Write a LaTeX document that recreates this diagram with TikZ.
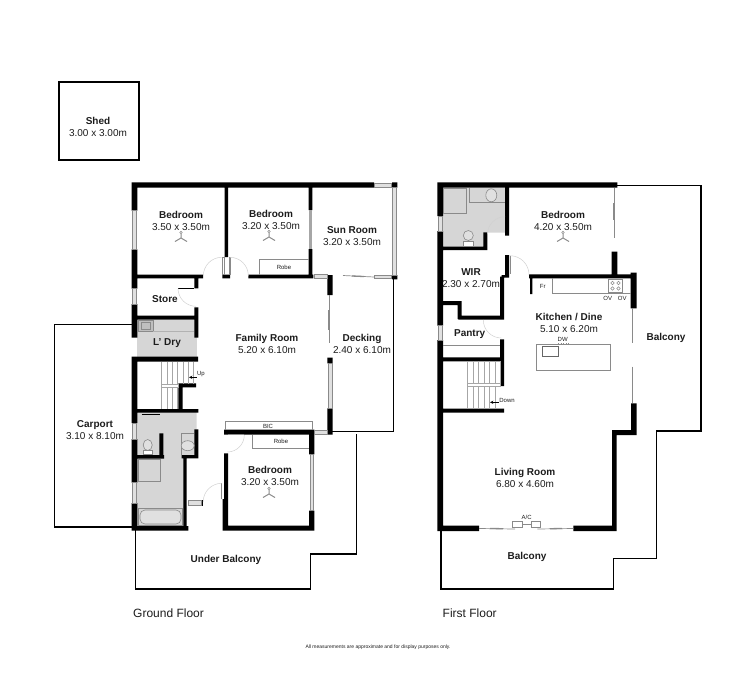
\documentclass[tikz,border=0pt]{standalone}
\usepackage{fontspec}
\setmainfont{Liberation Sans}
\usepackage{xcolor}
\definecolor{wetfloor}{HTML}{D6D6D6}
\definecolor{fitting}{HTML}{8A8A8A}
\definecolor{inktext}{HTML}{1C1C1C}
\tikzset{
    wall/.style={fill=black},
    outline/.style={draw=black, line width=1.5pt},
    wetarea/.style={fill=wetfloor},
    pane/.style={draw=fitting, line width=0.5pt, fill=white!88!black},
    slider/.style={draw=fitting, line width=0.7pt},
    sliderpanel/.style={draw=fitting, line width=1.3pt},
    fixture/.style={draw=fitting, line width=0.6pt},
    swing/.style={draw=black!18, line width=0.5pt},
    tread/.style={draw=black!35, line width=0.5pt},
    room/.style={font=\fontsize{10}{12}\selectfont, text=inktext, align=center, inner sep=0pt},
    tiny/.style={font=\fontsize{6}{7}\selectfont, text=inktext, inner sep=0pt},
    floortitle/.style={font=\fontsize{12}{14}\selectfont, text=inktext, inner sep=0pt, anchor=west},
    fan/.pic={
        \draw[draw=black!45, line width=1pt] (0, 0) -- (0, -4) (0, 0) -- (-6, 3.5) (0, 0) -- (6, 3.5);
        \draw[fixture, line width=0.5pt] (0, -5.5) circle (1.2);
    }
}

\begin{document}
\begin{tikzpicture}[x=1pt, y=-1pt]
    \useasboundingbox (0, 0) rectangle (750, 697);

    % wet rooms
    \fill[wetarea] (137, 320) rectangle (196.5, 356.7);
    \fill[wetarea] (137, 412) -- (196.5, 412) -- (196.5, 456) -- (184, 456) -- (184, 526) -- (137, 526) -- cycle;
    \fill[wetarea] (443, 188) -- (505, 188) -- (505, 232.5) -- (484, 232.5) -- (484, 247) -- (443, 247) -- cycle;

    % outlines
    \draw[outline] (59, 82) rectangle (139, 160);
    \draw[outline] (132, 324.3) -- (54.3, 324.3) -- (54.3, 527) -- (132, 527);
    \draw[outline] (393.4, 279) -- (393.4, 431.4) -- (332, 431.4);
    \draw[outline] (135.3, 530) -- (135.3, 589) -- (310.7, 589) -- (310.7, 554) -- (356.7, 554) -- (356.7, 434);
    \draw[outline] (617, 185.7) -- (701, 185.7) -- (701, 431) -- (656.7, 431) -- (656.7, 558.3) -- (613.3, 558.3) -- (613.3, 589) -- (441, 589) -- (441, 530);

    % ground floor walls
    \fill[wall]
    (132, 182.3) rectangle (374, 187.7)
    (392, 182.3) rectangle (397.3, 187.7)
    (392, 275) rectangle (397.3, 279.3)
    (131.7, 182.3) rectangle (137.3, 210.7)
    (131.7, 249.3) rectangle (137.3, 288.7)
    (131.7, 304) rectangle (137.3, 337.7)
    (131.7, 356.7) rectangle (137.3, 423)
    (131.7, 439) rectangle (137.3, 482.7)
    (131.7, 503) rectangle (137.3, 530.7)
    (137, 274.7) rectangle (203, 278.3)
    (194.3, 278) rectangle (198.3, 288.3)
    (194.3, 307.3) rectangle (198.3, 337.7)
    (137, 315.7) rectangle (198.3, 319.7)
    (137, 356.7) rectangle (198, 361.7)
    (178.3, 383.3) rectangle (196, 387.3)
    (178.3, 383.3) rectangle (182.7, 410)
    (137, 409) rectangle (198.3, 412.7)
    (194.3, 429.3) rectangle (198.3, 458.3)
    (181.7, 455) rectangle (198.3, 458.3)
    (183.3, 458) rectangle (186.7, 530)
    (137, 526) rectangle (188.3, 530.7)
    (159.3, 433.3) rectangle (163.3, 458.3)
    (137, 455) rectangle (164, 458.7)
    (224.7, 187) rectangle (228, 257)
    (222.3, 274.7) rectangle (230, 278.3)
    (248.3, 274.7) rectangle (313.3, 278.3)
    (308.7, 187) rectangle (312.3, 210)
    (308.7, 249) rectangle (312.3, 275)
    (327.3, 275) rectangle (332.7, 295)
    (327.3, 357.7) rectangle (332.7, 363.3)
    (327.3, 408.3) rectangle (332.7, 434.7)
    (224, 453.3) rectangle (228, 499)
    (222.7, 499) rectangle (228, 530.7)
    (222.7, 525.7) rectangle (314.3, 530.7)
    (309, 430) rectangle (314.3, 454.3)
    (309, 510.7) rectangle (314.3, 530.7)
    (224, 429.7) rectangle (314.3, 434.7);

    % first floor walls
    \fill[wall]
    (437.3, 182.3) rectangle (617.3, 187.7)
    (437.3, 182.3) rectangle (443, 216)
    (437.3, 231) rectangle (443, 325.7)
    (437.3, 340) rectangle (443, 531)
    (437.3, 525.7) rectangle (479, 531)
    (573.3, 525.7) rectangle (616.7, 531)
    (612, 430) rectangle (616.7, 531)
    (612, 430) rectangle (636.7, 435)
    (631, 403.3) rectangle (636.7, 435)
    (630.7, 272.7) rectangle (636.7, 308.3)
    (529, 274.3) rectangle (636.7, 278.3)
    (530, 278) rectangle (532.3, 294)
    (611.7, 251.7) rectangle (617.3, 275)
    (505, 187) rectangle (509, 235.7)
    (505, 255) rectangle (509, 277.7)
    (501.7, 275) rectangle (509, 277.7)
    (500, 276.7) rectangle (504, 319.3)
    (458.3, 315.7) rectangle (504, 319.7)
    (457.7, 301) rectangle (461.7, 319)
    (443, 301) rectangle (461.7, 305)
    (443, 246.7) rectangle (487.3, 250)
    (483.3, 232.3) rectangle (487.3, 250)
    (500, 339.3) rectangle (504, 386)
    (443, 357.3) rectangle (504, 361.3)
    (443, 408.7) rectangle (504, 412.7);

    % windows
    \draw[pane] (132.5, 210.7) rectangle (136.5, 249.3);
    \draw[pane] (132.5, 288.7) rectangle (136.5, 304);
    \draw[pane] (132.5, 423) rectangle (136.5, 439);
    \draw[pane] (132.5, 482.7) rectangle (136.5, 503);
    \draw[pane] (374, 183) rectangle (391.7, 187);
    \draw[pane] (392.5, 187.7) rectangle (396.5, 275);
    \draw[pane] (314.3, 274.7) rectangle (327.3, 278.7);
    \draw[pane] (328, 363.3) rectangle (332, 408.3);
    \draw[pane] (314.3, 430.5) rectangle (327.3, 434.5);
    \draw[pane] (309.8, 454.3) rectangle (313.5, 510.7);
    \draw[pane] (188.3, 500) rectangle (201.5, 505);
    \draw[pane] (438, 216) rectangle (442.3, 231);
    \draw[pane] (438, 325.7) rectangle (442.3, 340);
    \draw[pane] (374, 275) rectangle (391.7, 278.3);
    \fill[black] (201.5, 499.5) rectangle (203.3, 505.5);
    \fill[black!35] (308.7, 210) rectangle (312.3, 249);

    % sliding doors
    \draw[slider]
    (329, 295) edge (329, 343)
    (343, 275.5) edge (374, 277)
    (614.3, 188) edge (614.3, 238)
    (632.7, 308.3) edge (632.7, 343)
    (632.7, 366.7) edge (632.7, 403.3)
    (479, 528.5) edge (515, 529)
    (537.3, 529) edge (573.3, 528.5);
    \draw[sliderpanel]
    (328.8, 310) edge (328.8, 330)
    (352, 276) edge (364, 276.5)
    (614, 203) edge (614, 220)
    (632.5, 320) edge (632.5, 335)
    (632.5, 380) edge (632.5, 395)
    (490, 528.5) edge (503, 528.7)
    (550, 528.7) edge (562, 528.5);

    % door swings
    \draw[fixture] (222.3, 257.3) rectangle (223.8, 274.7);
    \draw[fixture] (228.8, 257.3) rectangle (230.3, 274.7);
    \draw[swing] (221.7, 257.3) arc[start angle=270, end angle=180, radius=18.3];
    \draw[swing] (230, 257.3) arc[start angle=270, end angle=360, radius=18.3];
    \draw[black, line width=0.6pt] (178, 288.3) -- (194.3, 288.3);
    \draw[swing] (178, 288.3) arc[start angle=180, end angle=90, radius=18];
    \draw[fixture] (221.7, 483.3) -- (221.7, 499);
    \draw[swing] (221.7, 483.3) arc[start angle=270, end angle=180, radius=18.5];
    \draw[fixture, line width=1pt] (228, 434.9) -- (244.3, 434.9);
    \draw[swing] (244.3, 435) arc[start angle=0, end angle=90, radius=17];
    \draw[swing] (505, 216.7) arc[start angle=270, end angle=180, radius=17.5];
    \draw[fixture, line width=1pt] (510, 255.7) -- (510, 274.3);
    \draw[swing] (510, 255.7) arc[start angle=270, end angle=360, radius=19];
    \draw[swing] (483.3, 320) arc[start angle=180, end angle=90, radius=18];

    % stairs
    \foreach \x in {161.7, 167, 172.3, 177.6, 182.9, 188.2, 193.3}
        \draw[tread] (\x, 361.7) -- (\x, 384);
    \foreach \x in {161.7, 167, 172.3, 177.6}
        \draw[tread] (\x, 387) -- (\x, 409);
    \draw[tread] (161.7, 384) rectangle (178.3, 387);
    \foreach \x in {467.3, 472.8, 478.3, 483.8, 489.3, 494.8, 500}
        \draw[tread] (\x, 361.3) -- (\x, 383.3);
    \foreach \x in {467.3, 472.8, 478.3, 483.8, 489.3, 494.8}
        \draw[tread] (\x, 386.7) -- (\x, 408.7);
    \draw[tread] (467.3, 383.3) rectangle (500, 386.7);

    % ground floor fittings
    \draw[fixture, fill=black!25] (138.3, 320.7) rectangle (153.3, 331.7);
    \draw[fixture] (141, 322.5) rectangle (150.5, 329.5);
    \draw[fixture, draw=black!30] (153.3, 331.7) -- (194, 331.7);
    \draw[fixture] (259.3, 274.7) -- (259.3, 259.3) -- (308.7, 259.3);
    \draw[fixture] (252.3, 434.7) -- (252.3, 448.3) -- (309, 448.3);
    \draw[fixture] (225.7, 429.7) -- (225.7, 421.7) -- (312.3, 421.7) -- (312.3, 429.7);
    \draw[black, line width=0.5pt] (141.7, 414) -- (160, 414);
    \draw[fixture, fill=white!88!black] (147.7, 445) ellipse (4.5 and 5.5);
    \draw[fixture, fill=white] (143.5, 450.5) rectangle (152, 454.5);
    \draw[fixture] (181.3, 433.3) -- (194.3, 433.3) (181.3, 433.3) -- (181.3, 455);
    \draw[fixture, fill=white!88!black] (187.7, 445.7) ellipse (6.5 and 5);
    \draw[fixture] (138.3, 459.3) rectangle (160.7, 481.7);
    \draw[fixture] (138.3, 508.3) rectangle (182.7, 525);
    \draw[fixture, rounded corners=5pt, fill=white!88!black] (140, 510) rectangle (181, 524);

    % first floor fittings
    \draw[fixture] (443.3, 188.3) rectangle (466.7, 213.3);
    \draw[fixture] (469.3, 188) -- (469.3, 202.7) -- (505, 202.7);
    \draw[fixture, fill=white!88!black] (491.3, 195.3) ellipse (5.5 and 6.5);
    \draw[fixture, fill=white!88!black] (468.3, 235.5) ellipse (5 and 5);
    \draw[fixture, fill=white] (463, 241) rectangle (473.5, 246.5);
    \draw[fixture] (443, 345.7) -- (500, 345.7);
    \draw[fixture] (552.3, 278.3) -- (552.3, 293.3) -- (630.7, 293.3);
    \draw[fixture] (608.3, 279) rectangle (622.7, 292.3);
    \foreach \x in {612.5, 618.5}
        \foreach \y in {283, 288.5}
            \draw[fixture, line width=0.5pt] (\x, \y) circle (1.7);
    \draw[fixture] (536.7, 344.3) rectangle (610.7, 370.7);
    \draw[fixture, draw=black!60, line width=0.9pt] (542.3, 346) rectangle (558.3, 356.7);
    \draw[fixture, dotted] (558, 343.3) -- (568.5, 343.3);
    \draw[fixture, fill=white] (512.7, 521.7) rectangle (522.3, 527);
    \draw[fixture, fill=white] (531, 521.7) rectangle (540.7, 527);
    \draw[fixture] (522.3, 524.3) -- (531, 524.3);

    % stair arrows
    \coordinate (upfrom) at (196.7, 377.3);
    \coordinate (upto) at (189, 377.3);
    \coordinate (downfrom) at (499, 402.3);
    \coordinate (downto) at (490, 402.3);
    \draw[->, >=stealth, line width=0.5pt] (upfrom) -- (upto);
    \draw[->, >=stealth, line width=0.5pt] (downfrom) -- (downto);

    % ceiling fans
    \pic at (181, 238) {fan};
    \pic at (269, 237) {fan};
    \pic at (269, 494) {fan};
    \pic at (563, 238) {fan};

    % ground floor labels
    \node[room] (shed) at (98, 127) {\textbf{Shed}\\3.00 x 3.00m};
    \node[room] (bedwest) at (181, 220.5) {\textbf{Bedroom}\\3.50 x 3.50m};
    \node[room] (bednorth) at (271, 219.5) {\textbf{Bedroom}\\3.20 x 3.50m};
    \node[room] (sunroom) at (352, 236) {\textbf{Sun Room}\\3.20 x 3.50m};
    \node[room] (store) at (165, 299) {\textbf{Store}};
    \node[room] (ldry) at (167, 343) {\textbf{L' Dry}};
    \node[room] (family) at (267, 344) {\textbf{Family Room}\\5.20 x 6.10m};
    \node[room] (decking) at (362, 344) {\textbf{Decking}\\2.40 x 6.10m};
    \node[room] (carport) at (95, 430.5) {\textbf{Carport}\\3.10 x 8.10m};
    \node[room] (bedsouth) at (270, 476) {\textbf{Bedroom}\\3.20 x 3.50m};
    \node[room] (under) at (226, 560) {\textbf{Under Balcony}};
    \node[tiny] (up) at (201, 374) {Up};
    \node[tiny] (robenorth) at (284, 267) {Robe};
    \node[tiny] (robesouth) at (281, 441.5) {Robe};
    \node[tiny] (bic) at (268, 426) {BIC};
    \node[floortitle] (ground) at (133, 613) {Ground Floor};

    % first floor labels
    \node[room] (bedmain) at (563, 221) {\textbf{Bedroom}\\4.20 x 3.50m};
    \node[room] (wir) at (471, 278) {\textbf{WIR}\\2.30 x 2.70m};
    \node[room] (pantry) at (469.7, 334) {\textbf{Pantry}};
    \node[room] (kitchen) at (569, 323) {\textbf{Kitchen / Dine}\\5.10 x 6.20m};
    \node[room] (balconyeast) at (666, 338) {\textbf{Balcony}};
    \node[room] (living) at (525, 478) {\textbf{Living Room}\\6.80 x 4.60m};
    \node[room] (balconysouth) at (527, 557) {\textbf{Balcony}};
    \node[tiny] (fr) at (542.7, 286.7) {Fr};
    \node[tiny] (ovleft) at (607.7, 298.3) {OV};
    \node[tiny] (ovright) at (622.3, 298.3) {OV};
    \node[tiny] (dw) at (562.7, 339.3) {DW};
    \node[tiny] (ac) at (526.7, 517.7) {A/C};
    \node[tiny] (down) at (507, 400) {Down};
    \node[floortitle] (first) at (442.5, 613) {First Floor};
    \node[tiny, font=\fontsize{5}{6}\selectfont] (notice) at (378, 646.7) {All measurements are approximate and for display purposes only.};
\end{tikzpicture}
\end{document}
